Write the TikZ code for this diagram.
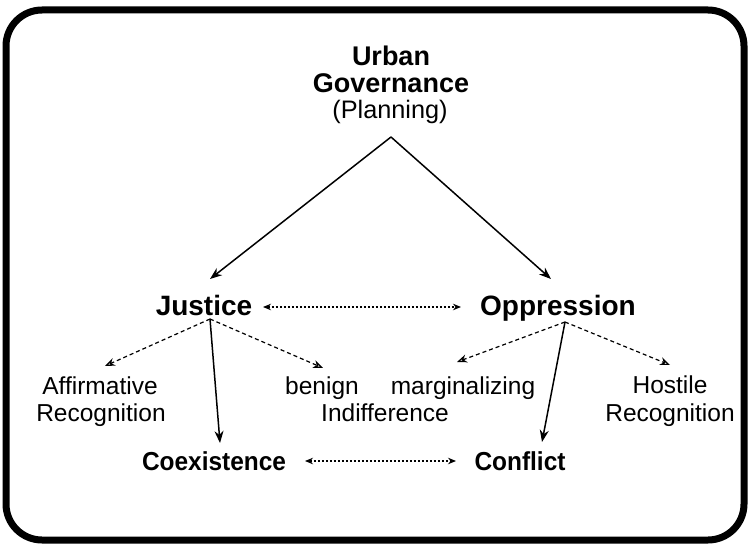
\documentclass[tikz,border=0pt]{standalone}
\usepackage{fontspec}
\setmainfont{Liberation Sans}
\usetikzlibrary{arrows.meta}
\begin{document}
\begin{tikzpicture}[x=1pt,y=-1pt,
  lbl/.style={inner sep=0pt, anchor=base, font=\fontsize{24.5}{28}\selectfont},
  topf/.style={inner sep=0pt, anchor=base, font=\fontsize{27}{30}\selectfont\bfseries},
  big/.style={inner sep=0pt, anchor=base, font=\fontsize{28}{32}\selectfont\bfseries},
  res/.style={inner sep=0pt, anchor=base, xscale=0.94, font=\fontsize{26}{30}\selectfont\bfseries},
  solidarr/.style={line width=1.5pt, -{Stealth[length=12pt,width=9pt]}},
  dasharr/.style={line width=1.2pt, dash pattern=on 4pt off 3pt, -{Stealth[open,length=10pt,width=8pt]}},
  dotarr/.style={line width=1.2pt, dash pattern=on 2pt off 2pt, {Stealth[length=8pt,width=6.5pt]}-{Stealth[length=8pt,width=6.5pt]}}
]
\useasboundingbox (0,0) rectangle (751,545);
\draw[line width=7pt, rounded corners=36pt] (6,10) rectangle (744,540);

% texts
\node[topf] (urban) at (391,66) {Urban};
\node[topf] (gov) at (391,93) {Governance};
\node[lbl, font=\fontsize{25.3}{28}\selectfont] (plan) at (390,119) {(Planning)};

\node[big] (just) at (204,315) {Justice};
\node[big] (opp) at (558,315) {Oppression};

\node[lbl] (aff1) at (100,394) {Affirmative};
\node[lbl] (aff2) at (101,421) {Recognition};
\node[lbl] (ben) at (322,394) {benign};
\node[lbl] (mar) at (463,394) {marginalizing};
\node[lbl] (ind) at (385,421) {Indifference};
\node[lbl] (hos1) at (670,393) {Hostile};
\node[lbl] (hos2) at (670,421) {Recognition};

\node[res] (cox) at (214,470) {Coexistence};
\node[res] (con) at (520,470) {Conflict};

% connector end points
\coordinate (apex) at (391,137);
\coordinate (jt) at (210,279);
\coordinate (ot) at (551,279);
\coordinate (jb) at (210,319);
\coordinate (ob) at (565,322);
\coordinate (affT) at (105,366);
\coordinate (benT) at (323,368);
\coordinate (marT) at (457,362);
\coordinate (hosT) at (670,365);
\coordinate (coxT) at (220,443);
\coordinate (conT) at (542,442);
\coordinate (jo1) at (263,307);
\coordinate (jo2) at (461,307);
\coordinate (cc1) at (305,461);
\coordinate (cc2) at (456,461);

% connectors
\draw[solidarr] (apex) -- (jt);
\draw[solidarr] (apex) -- (ot);
\draw[dotarr] (jo1) -- (jo2);
\draw[dasharr] (jb) -- (affT);
\draw[dasharr] (jb) -- (benT);
\draw[solidarr] (jb) -- (coxT);
\draw[dasharr] (ob) -- (marT);
\draw[dasharr] (ob) -- (hosT);
\draw[solidarr] (ob) -- (conT);
\draw[dotarr] (cc1) -- (cc2);
\end{tikzpicture}
\end{document}
